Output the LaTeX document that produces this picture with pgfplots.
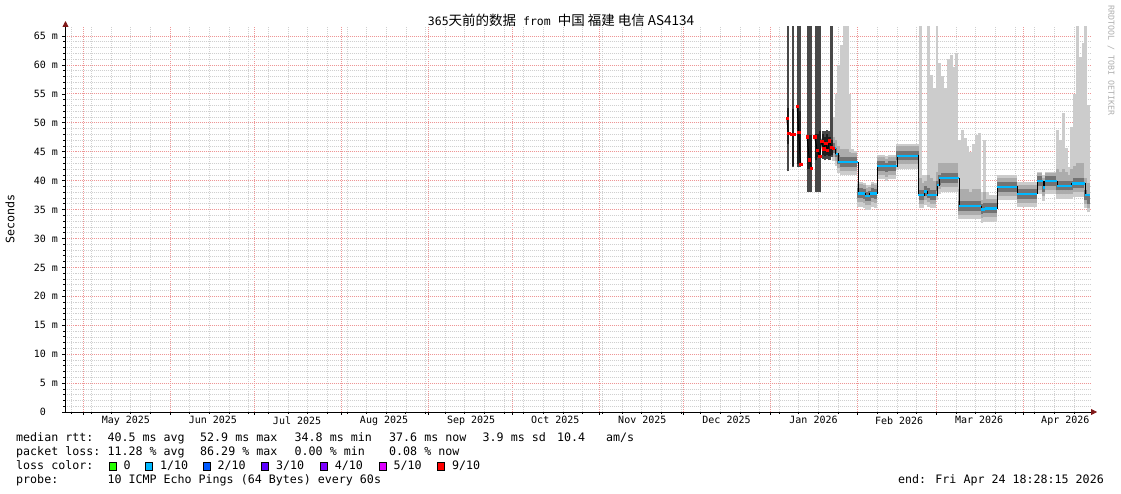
\documentclass[border=0pt]{standalone}
\usepackage{fontspec}
\setmainfont{DejaVu Sans Mono}
\newfontfamily\cjk{Noto Sans CJK SC}
\usepackage{pgfplots}
\usepackage{pgfplotstable}
\pgfplotsset{compat=1.18}
\usetikzlibrary{arrows.meta}

\definecolor{majgrid}{RGB}{238,150,150}
\definecolor{mingrid}{RGB}{208,208,208}
\definecolor{smokeL}{RGB}{204,204,204}
\definecolor{smokeM}{RGB}{172,172,172}
\definecolor{smokeD}{RGB}{115,115,115}
\definecolor{janbar}{RGB}{72,72,72}
\definecolor{jancore}{RGB}{30,30,30}
\definecolor{lossA}{RGB}{38,255,0}
\definecolor{lossB}{RGB}{0,184,255}
\definecolor{lossC}{RGB}{0,89,255}
\definecolor{lossD}{RGB}{94,0,255}
\definecolor{lossE}{RGB}{126,0,255}
\definecolor{lossF}{RGB}{221,0,255}
\definecolor{lossG}{RGB}{255,0,0}
\definecolor{arrowred}{RGB}{128,24,24}
\definecolor{wm}{RGB}{175,175,175}

\pgfplotstableread{
x lo mlo dlo dhi mhi hi
273.5 43.3 44.1 44.8 46.5 47.5 51.0
274.5 42.5 43.3 44.0 45.7 47.0 55.0
275.5 41.3 42.1 42.8 44.5 46.0 60.0
276.5 40.9 41.7 42.4 44.1 45.5 63.5
277.5 40.9 41.7 42.4 44.1 45.5 70.0
278.5 40.9 41.7 42.4 44.1 45.5 70.0
279.5 40.9 41.7 42.4 44.1 45.0 55.0
280.5 40.9 41.7 42.4 44.1 44.8 45.5
281.5 40.9 41.7 42.4 44.1 44.8 45.2
282.5 35.5 36.3 37.0 38.7 39.4 39.8
283.5 35.5 36.3 37.0 38.7 39.4 39.8
284.5 35.3 36.1 36.8 38.5 39.2 39.6
285.5 34.9 35.7 36.4 38.1 38.8 39.2
286.5 35.0 35.8 36.5 38.2 38.9 39.3
287.5 35.5 36.3 37.0 38.7 39.4 39.8
288.5 35.3 36.1 36.8 38.5 39.2 39.6
289.5 40.2 41.0 41.7 43.4 44.1 44.5
290.5 40.2 41.0 41.7 43.4 44.1 44.5
291.5 40.2 41.0 41.7 43.4 44.1 44.5
292.5 39.9 40.7 41.4 43.1 43.8 44.2
293.5 40.2 41.0 41.7 43.4 44.1 44.5
294.5 40.2 41.0 41.7 43.4 44.1 44.5
295.5 40.2 41.0 41.7 43.4 44.1 44.5
296.5 42.0 42.8 43.5 45.2 45.9 46.3
297.5 42.0 42.8 43.5 45.2 45.9 46.3
298.5 42.0 42.8 43.5 45.2 45.9 46.3
299.5 42.0 42.8 43.5 45.2 45.9 46.3
300.5 42.0 42.8 43.5 45.2 45.9 46.3
301.5 42.0 42.8 43.5 45.2 45.9 46.3
302.5 42.0 42.8 43.5 45.2 45.9 46.3
303.5 42.0 42.8 43.5 45.2 45.9 46.3
304.5 35.2 36.0 36.7 38.4 40.5 70.0
305.5 35.2 36.0 36.7 38.4 39.5 41.0
306.5 35.8 36.6 37.3 39.0 40.0 41.0
307.5 35.5 36.3 37.0 38.7 41.0 70.0
308.5 35.2 36.0 36.7 38.4 40.5 58.3
309.5 35.2 36.0 36.7 38.4 40.0 56.0
310.5 36.7 37.5 38.2 39.9 41.5 70.0
311.5 37.7 38.5 39.2 40.9 43.0 60.3
312.5 38.1 38.9 39.6 41.3 43.0 58.0
313.5 38.1 38.9 39.6 41.3 43.0 56.0
314.5 38.1 38.9 39.6 41.3 43.0 61.0
315.5 38.1 38.9 39.6 41.3 43.0 61.7
316.5 38.1 38.9 39.6 41.3 43.0 59.7
317.5 38.1 38.9 39.6 41.3 43.0 62.0
318.5 33.3 34.1 34.8 36.5 38.6 47.0
319.5 33.3 34.1 34.8 36.5 38.6 48.7
320.5 33.3 34.1 34.8 36.5 38.6 47.3
321.5 33.3 34.1 34.8 36.5 38.6 46.0
322.5 33.3 34.1 34.8 36.5 38.0 45.0
323.5 33.3 34.1 34.8 36.5 38.6 46.4
324.5 33.3 34.1 34.8 36.5 38.6 47.9
325.5 33.3 34.1 34.8 36.5 38.6 48.2
326.5 32.7 33.5 34.2 35.9 36.6 38.0
327.5 32.9 33.7 34.4 36.1 38.0 47.0
328.5 32.9 33.7 34.4 36.1 36.8 38.0
329.5 32.9 33.7 34.4 36.1 36.8 37.5
330.5 32.9 33.7 34.4 36.1 36.8 37.5
331.5 32.9 33.7 34.4 36.1 36.8 37.5
332.5 36.6 37.4 38.1 39.8 40.5 40.9
333.5 36.6 37.4 38.1 39.8 40.5 40.9
334.5 36.6 37.4 38.1 39.8 40.5 40.9
335.5 36.6 37.4 38.1 39.8 40.5 40.9
336.5 36.6 37.4 38.1 39.8 40.5 40.9
337.5 36.6 37.4 38.1 39.8 40.5 40.9
338.5 36.6 37.4 38.1 39.8 40.5 40.9
339.5 35.4 36.2 36.9 38.6 39.3 39.7
340.5 35.4 36.2 36.9 38.6 39.3 39.7
341.5 35.4 36.2 36.9 38.6 39.3 39.7
342.5 35.4 36.2 36.9 38.6 39.3 39.7
343.5 35.4 36.2 36.9 38.6 39.3 39.7
344.5 35.4 36.2 36.9 38.6 39.3 39.7
345.5 35.4 36.2 36.9 38.6 39.3 39.7
346.5 37.6 38.4 39.1 40.8 41.3 41.5
347.5 37.6 38.4 39.1 40.8 41.3 41.5
348.5 36.5 37.3 38.0 39.7 40.4 41.0
349.5 37.6 38.4 39.1 40.8 41.3 41.5
350.5 37.6 38.4 39.1 40.8 41.3 41.5
351.5 37.6 38.4 39.1 40.8 41.3 41.5
352.5 37.6 38.4 39.1 40.8 41.3 41.5
353.5 36.8 37.6 38.3 40.0 42.0 48.7
354.5 36.8 37.6 38.3 40.0 41.5 47.0
355.5 36.8 37.6 38.3 40.0 42.0 51.6
356.5 36.8 37.6 38.3 40.0 41.5 45.6
357.5 36.8 37.6 38.3 40.0 41.0 42.4
358.5 36.8 37.6 38.3 40.0 42.0 49.3
359.5 37.2 38.0 38.7 40.4 42.5 55.0
360.5 37.2 38.0 38.7 40.4 43.0 70.0
361.5 37.2 38.0 38.7 40.4 43.0 61.4
362.5 37.2 38.0 38.7 40.4 43.0 63.7
363.5 35.2 36.0 36.7 38.4 40.5 70.0
364.5 34.5 35.3 36.0 37.7 39.5 53.0
}\smoke

\pgfplotstableread{
x lo clo chi hi
257.35 41.6 46.3 52.6 70
259.1 42.3 42.6 52.3 70
260.95 42.4 42.9 52.8 70
261.7 42.4 43.0 52.0 70
264.6 38.0 42.0 47.8 70
265.4 38.0 42.0 47.8 70
267.3 38.0 43.5 48.0 70
268.1 38.0 44.0 48.0 70
268.8 38.0 44.0 48.5 70
269.8 43.8 44.5 48.0 48.5
270.6 43.5 44.2 47.5 48.5
271.4 43.8 44.5 48.0 48.8
272.2 43.5 44.2 47.6 48.5
272.9 44.0 44.5 47.0 70
}\janbars

\pgfplotstableread{
x y
257.0 50.8
257.5 48.2
257.9 48.2
258.3 nan
258.7 48.0
259.5 48.0
260.1 nan
260.7 52.8
261.2 48.4
261.9 42.9
263.0 nan
264.2 47.6
265.0 43.6
265.8 42.2
266.4 nan
266.9 47.6
267.8 45.3
268.7 44.2
269.4 46.8
270.1 45.5
270.8 46.5
271.5 45.2
272.2 46.9
272.9 45.8
273.4 45.6
}\janmed

\pgfplotstableread{
x y
273.3 45.6
274.5 44.6
275.3 43.2
282.4 37.8
285.0 37.3
286.5 37.8
289.2 42.5
296.3 44.3
303.8 37.5
306.0 38.1
307.0 37.5
310.6 39.2
311.3 40.4
318.4 35.6
326.3 35.0
327.5 35.2
332.0 38.9
339.1 37.7
346.2 39.9
348.3 38.8
348.9 39.9
353.3 39.1
358.5 39.5
363.3 37.5
365.0 37.5
}\med

\newcommand{\legfont}{\fontsize{11.65pt}{13pt}\selectfont}
\pgfplotsset{smokebar/.style 2 args={draw=none, mark=none, forget plot,
  error bars/.cd, y dir=plus, y explicit, error mark=none,
  error bar style={line width=#1, draw=#2}}}

\begin{document}
\begin{tikzpicture}
\path[use as bounding box] (-65.5pt,-82pt) rectangle (1055.5pt,412pt);
\begin{axis}[
  name=ax,
  at={(0pt,0pt)}, anchor=south west,
  scale only axis, width=1024.5pt, height=385pt,
  xmin=0, xmax=365, ymin=0, ymax=66.55,
  axis lines=left,
  axis line style={line width=0.8pt, black},
  x axis line style={-{Triangle[length=6pt,width=6pt,color=arrowred]}, shorten >=-7pt},
  y axis line style={-{Triangle[length=6pt,width=6pt,color=arrowred]}, shorten >=-6pt},
  major grid style={draw=majgrid, line width=0.7pt, dash pattern=on 1pt off 1pt},
  minor grid style={draw=mingrid, line width=0.55pt, dash pattern=on 1pt off 1pt},
  xtick={6.23,37.23,67.23,98.23,129.23,159.23,190.23,220.23,251.23,282.23,310.23,341.23},
  xticklabels={},
  xmajorgrids,
  minor xtick={2.23,9.23,...,359.23},
  xminorgrids,
  extra x ticks={21.5,52.5,82.5,113.5,144.5,174.5,205.5,235.5,266.5,297,325.5,356.2},
  extra x tick labels={May 2025,Jun 2025,Jul 2025,Aug 2025,Sep 2025,Oct 2025,Nov 2025,Dec 2025,Jan 2026,Feb 2026,Mar 2026,Apr 2026},
  extra x tick style={grid=none, major tick length=0pt},
  ytick={0,5,...,65},
  yticklabels={0\phantom{\ m},5 m,10 m,15 m,20 m,25 m,30 m,35 m,40 m,45 m,50 m,55 m,60 m,65 m},
  minor y tick num=4,
  ymajorgrids, yminorgrids,
  tick align=outside, major tick length=3pt, minor tick length=2pt,
  tick style={black, line width=0.6pt},
  ticklabel style={font=\fontsize{10pt}{12pt}\selectfont},
  xticklabel style={yshift=-1pt},
  yticklabel style={xshift=-1pt},
]
\addplot[smokebar={2.9pt}{smokeL}]
  table[x=x, y=lo, y error expr=\thisrow{hi}-\thisrow{lo}] {\smoke};
\addplot[smokebar={2.9pt}{smokeM}]
  table[x=x, y=mlo, y error expr=\thisrow{mhi}-\thisrow{mlo}] {\smoke};
\addplot[smokebar={2.9pt}{smokeD}]
  table[x=x, y=dlo, y error expr=\thisrow{dhi}-\thisrow{dlo}] {\smoke};
\addplot[smokebar={2.4pt}{janbar}]
  table[x=x, y=lo, y error expr=\thisrow{hi}-\thisrow{lo}] {\janbars};
\addplot[smokebar={2.4pt}{jancore}]
  table[x=x, y=clo, y error expr=\thisrow{chi}-\thisrow{clo}] {\janbars};
\addplot[black, line width=1pt, const plot, mark=none, forget plot] table[x=x, y=y] {\med};
\addplot[lossB, line width=2.4pt, jump mark left, mark=none, forget plot] table[x=x, y=y] {\med};
\addplot[black, line width=1pt, mark=none, unbounded coords=jump, forget plot] table[x=x, y=y] {\janmed};
\addplot[only marks, mark=square*, mark size=1.1pt, lossG, unbounded coords=discard, forget plot] table[x=x, y=y] {\janmed};
\end{axis}

% title
\node[anchor=base] at (495.5pt,386.5pt) {{\fontsize{11.5pt}{13pt}\selectfont 365}{\cjk\fontsize{13.5pt}{16pt}\selectfont 天前的数据}{\fontsize{11.5pt}{13pt}\selectfont\ from\ }{\cjk\fontsize{13.5pt}{16pt}\selectfont 中国 福建 电信 AS4134}};
% y label
\node[rotate=90, font=\legfont, inner sep=0pt] at (-55.5pt,193pt) {Seconds};
% watermark
\node[rotate=-90, anchor=west, font=\fontsize{8.3pt}{10pt}\selectfont, text=wm, inner sep=0pt] at (1045.5pt,407pt) {RRDTOOL / TOBI OETIKER};

\begin{scope}[font=\legfont, every node/.style={inner sep=0pt, anchor=base west}]
\node at (-49.5pt,-30pt) {median rtt:};
\node at (41.8pt,-30pt) {40.5 ms avg};
\node at (134.5pt,-30pt) {52.9 ms max};
\node at (229pt,-30pt) {34.8 ms min};
\node at (323.5pt,-30pt) {37.6 ms now};
\node at (417pt,-30pt) {3.9 ms sd};
\node at (491.5pt,-30pt) {10.4};
\node at (540.5pt,-30pt) {am/s};
\node at (-49.5pt,-44pt) {packet loss:};
\node at (41.8pt,-44pt) {11.28 \% avg};
\node at (134.5pt,-44pt) {86.29 \% max};
\node at (229pt,-44pt) {0.00 \% min};
\node at (323.5pt,-44pt) {0.08 \% now};
\node at (-49.5pt,-58pt) {loss color:};
\node at (57.8pt,-58pt) {0};
\node at (94.5pt,-58pt) {1/10};
\node at (151.8pt,-58pt) {2/10};
\node at (210.5pt,-58pt) {3/10};
\node at (269.2pt,-58pt) {4/10};
\node at (327.8pt,-58pt) {5/10};
\node at (386.5pt,-58pt) {9/10};
\node at (-49.5pt,-72pt) {probe:};
\node at (41.8pt,-72pt) {10 ICMP Echo Pings (64 Bytes) every 60s};
\node[anchor=base east] at (1038.5pt,-72pt) {end: Fri Apr 24 18:28:15 2026};
\end{scope}
\begin{scope}[line width=0.8pt]
\draw[fill=lossA] (43.5pt,-58pt) rectangle ++(7pt,7.7pt);
\draw[fill=lossB] (80.2pt,-58pt) rectangle ++(7pt,7.7pt);
\draw[fill=lossC] (137.5pt,-58pt) rectangle ++(7pt,7.7pt);
\draw[fill=lossD] (196.2pt,-58pt) rectangle ++(7pt,7.7pt);
\draw[fill=lossE] (254.9pt,-58pt) rectangle ++(7pt,7.7pt);
\draw[fill=lossF] (313.5pt,-58pt) rectangle ++(7pt,7.7pt);
\draw[fill=lossG] (372.2pt,-58pt) rectangle ++(7pt,7.7pt);
\end{scope}
\end{tikzpicture}
\end{document}
